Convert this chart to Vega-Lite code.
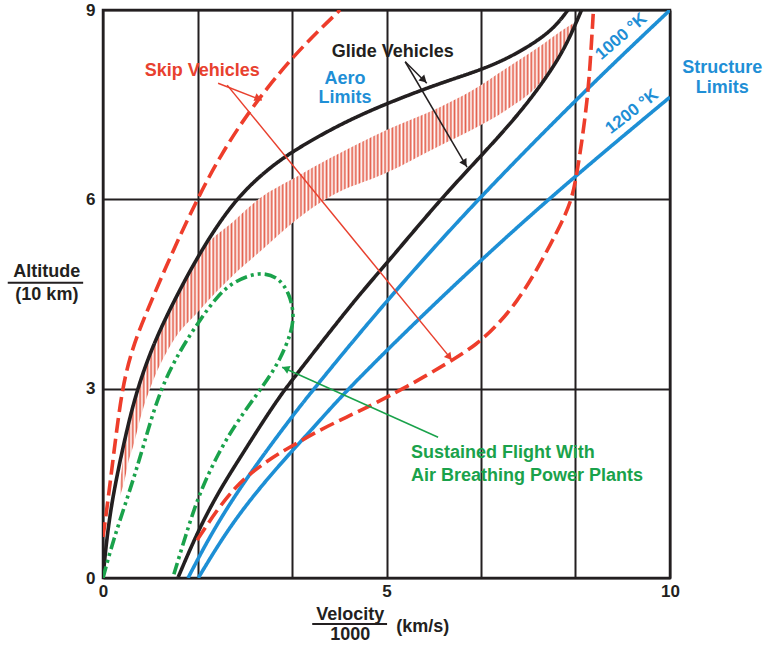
{
  "$schema": "https://vega.github.io/schema/vega-lite/v6.json",
  "width": 567,
  "height": 568,
  "autosize": {"type": "none"},
  "padding": {"left": 103, "top": 10, "right": 95, "bottom": 67},
  "background": "white",
  "config": {
    "view": {"stroke": "#231f20", "strokeWidth": 2.5},
    "font": "Liberation Sans",
    "axis": {
      "grid": true, "gridColor": "#231f20", "gridWidth": 2, "gridOpacity": 1,
      "ticks": false, "domain": false, "title": null,
      "labelFont": "Liberation Sans", "labelFontWeight": "bold", "labelFontSize": 17,
      "labelColor": "#231f20"
    }
  },
  "datasets": {
    "hatch": [
      {"x": 0.3, "y": 1.3, "y2": 1.5},
      {"x": 0.38, "y": 1.55, "y2": 2.05},
      {"x": 0.45, "y": 1.85, "y2": 2.4},
      {"x": 0.53, "y": 2.08, "y2": 2.72},
      {"x": 0.68, "y": 2.6, "y2": 3.2},
      {"x": 0.85, "y": 3.05, "y2": 3.6},
      {"x": 1.2, "y": 3.7, "y2": 4.25},
      {"x": 1.71, "y": 4.25, "y2": 5.15},
      {"x": 2.3, "y": 4.8, "y2": 5.65},
      {"x": 2.74, "y": 5.15, "y2": 6.0},
      {"x": 3.4, "y": 5.67, "y2": 6.35},
      {"x": 4.0, "y": 6.04, "y2": 6.65},
      {"x": 5.0, "y": 6.42, "y2": 7.1},
      {"x": 5.94, "y": 6.85, "y2": 7.46},
      {"x": 6.5, "y": 7.1, "y2": 7.72},
      {"x": 7.12, "y": 7.42, "y2": 8.08},
      {"x": 7.7, "y": 7.84, "y2": 8.42},
      {"x": 8.1, "y": 8.37, "y2": 8.68},
      {"x": 8.36, "y": 8.78, "y2": 8.82}
    ],
    "curves": [
      {"s": "glide_upper", "i": 1, "x": 0, "y": 0},
      {"s": "glide_upper", "i": 2, "x": 0.04, "y": 0.4},
      {"s": "glide_upper", "i": 3, "x": 0.12, "y": 1.0},
      {"s": "glide_upper", "i": 4, "x": 0.24, "y": 1.6},
      {"s": "glide_upper", "i": 5, "x": 0.42, "y": 2.35},
      {"s": "glide_upper", "i": 6, "x": 0.6, "y": 2.98},
      {"s": "glide_upper", "i": 7, "x": 0.85, "y": 3.62},
      {"s": "glide_upper", "i": 8, "x": 1.18, "y": 4.27},
      {"s": "glide_upper", "i": 9, "x": 1.71, "y": 5.17},
      {"s": "glide_upper", "i": 10, "x": 2.3, "y": 5.97},
      {"s": "glide_upper", "i": 11, "x": 2.85, "y": 6.44},
      {"s": "glide_upper", "i": 12, "x": 3.35, "y": 6.77},
      {"s": "glide_upper", "i": 13, "x": 4.2, "y": 7.2},
      {"s": "glide_upper", "i": 14, "x": 5.0, "y": 7.52},
      {"s": "glide_upper", "i": 15, "x": 5.94, "y": 7.84},
      {"s": "glide_upper", "i": 16, "x": 6.67, "y": 8.05},
      {"s": "glide_upper", "i": 17, "x": 7.2, "y": 8.26},
      {"s": "glide_upper", "i": 18, "x": 7.7, "y": 8.53},
      {"s": "glide_upper", "i": 19, "x": 8.0, "y": 8.76},
      {"s": "glide_upper", "i": 20, "x": 8.2, "y": 9.0},
      {"s": "glide_lower", "i": 1, "x": 1.32, "y": 0},
      {"s": "glide_lower", "i": 2, "x": 1.68, "y": 0.76},
      {"s": "glide_lower", "i": 3, "x": 2.06, "y": 1.4},
      {"s": "glide_lower", "i": 4, "x": 2.47, "y": 1.98},
      {"s": "glide_lower", "i": 5, "x": 2.8, "y": 2.45},
      {"s": "glide_lower", "i": 6, "x": 3.12, "y": 2.88},
      {"s": "glide_lower", "i": 7, "x": 3.33, "y": 3.13},
      {"s": "glide_lower", "i": 8, "x": 4.44, "y": 4.41},
      {"s": "glide_lower", "i": 9, "x": 5.0, "y": 4.98},
      {"s": "glide_lower", "i": 10, "x": 5.94, "y": 5.99},
      {"s": "glide_lower", "i": 11, "x": 6.65, "y": 6.67},
      {"s": "glide_lower", "i": 12, "x": 7.41, "y": 7.42},
      {"s": "glide_lower", "i": 13, "x": 8.0, "y": 8.16},
      {"s": "glide_lower", "i": 14, "x": 8.25, "y": 8.6},
      {"s": "glide_lower", "i": 15, "x": 8.44, "y": 9.0},
      {"s": "aero_1000", "i": 1, "x": 1.5, "y": 0},
      {"s": "aero_1000", "i": 2, "x": 1.94, "y": 0.76},
      {"s": "aero_1000", "i": 3, "x": 2.54, "y": 1.6},
      {"s": "aero_1000", "i": 4, "x": 3.3, "y": 2.52},
      {"s": "aero_1000", "i": 5, "x": 3.72, "y": 3.0},
      {"s": "aero_1000", "i": 6, "x": 5.01, "y": 4.41},
      {"s": "aero_1000", "i": 7, "x": 6.6, "y": 6.0},
      {"s": "aero_1000", "i": 8, "x": 8.54, "y": 7.76},
      {"s": "aero_1000", "i": 9, "x": 10, "y": 9.0},
      {"s": "aero_1200", "i": 1, "x": 1.68, "y": 0},
      {"s": "aero_1200", "i": 2, "x": 2.19, "y": 0.76},
      {"s": "aero_1200", "i": 3, "x": 2.77, "y": 1.44},
      {"s": "aero_1200", "i": 4, "x": 3.35, "y": 2.03},
      {"s": "aero_1200", "i": 5, "x": 3.83, "y": 2.5},
      {"s": "aero_1200", "i": 6, "x": 4.32, "y": 3.0},
      {"s": "aero_1200", "i": 7, "x": 5.91, "y": 4.41},
      {"s": "aero_1200", "i": 8, "x": 7.83, "y": 6.0},
      {"s": "aero_1200", "i": 9, "x": 10, "y": 7.62},
      {"s": "skip_left", "i": 1, "x": 0, "y": 0.65},
      {"s": "skip_left", "i": 2, "x": 0.07, "y": 1.1},
      {"s": "skip_left", "i": 3, "x": 0.2, "y": 2.05},
      {"s": "skip_left", "i": 4, "x": 0.34, "y": 3.03},
      {"s": "skip_left", "i": 5, "x": 0.52, "y": 3.65},
      {"s": "skip_left", "i": 6, "x": 0.76, "y": 4.2},
      {"s": "skip_left", "i": 7, "x": 1.24, "y": 5.2},
      {"s": "skip_left", "i": 8, "x": 1.66, "y": 6.0},
      {"s": "skip_left", "i": 9, "x": 2.06, "y": 6.68},
      {"s": "skip_left", "i": 10, "x": 2.59, "y": 7.42},
      {"s": "skip_left", "i": 11, "x": 3.35, "y": 8.28},
      {"s": "skip_left", "i": 12, "x": 4.18, "y": 9.0},
      {"s": "skip_right", "i": 1, "x": 1.66, "y": 0.6},
      {"s": "skip_right", "i": 2, "x": 2.01, "y": 1.08},
      {"s": "skip_right", "i": 3, "x": 2.3, "y": 1.4},
      {"s": "skip_right", "i": 4, "x": 2.54, "y": 1.62},
      {"s": "skip_right", "i": 5, "x": 3.0, "y": 1.92},
      {"s": "skip_right", "i": 6, "x": 3.35, "y": 2.1},
      {"s": "skip_right", "i": 7, "x": 3.83, "y": 2.35},
      {"s": "skip_right", "i": 8, "x": 4.3, "y": 2.55},
      {"s": "skip_right", "i": 9, "x": 4.76, "y": 2.75},
      {"s": "skip_right", "i": 10, "x": 5.36, "y": 3.03},
      {"s": "skip_right", "i": 11, "x": 6.07, "y": 3.4},
      {"s": "skip_right", "i": 12, "x": 6.6, "y": 3.7},
      {"s": "skip_right", "i": 13, "x": 7.0, "y": 4.05},
      {"s": "skip_right", "i": 14, "x": 7.3, "y": 4.38},
      {"s": "skip_right", "i": 15, "x": 7.6, "y": 4.8},
      {"s": "skip_right", "i": 16, "x": 7.9, "y": 5.3},
      {"s": "skip_right", "i": 17, "x": 8.1, "y": 5.65},
      {"s": "skip_right", "i": 18, "x": 8.27, "y": 6.0},
      {"s": "skip_right", "i": 19, "x": 8.36, "y": 6.42},
      {"s": "skip_right", "i": 20, "x": 8.45, "y": 6.94},
      {"s": "skip_right", "i": 21, "x": 8.54, "y": 7.57},
      {"s": "skip_right", "i": 22, "x": 8.59, "y": 8.1},
      {"s": "skip_right", "i": 23, "x": 8.65, "y": 9.0},
      {"s": "sustained", "i": 1, "x": 0, "y": 0},
      {"s": "sustained", "i": 2, "x": 0.18, "y": 0.6},
      {"s": "sustained", "i": 3, "x": 0.48, "y": 1.4},
      {"s": "sustained", "i": 4, "x": 0.71, "y": 2.08},
      {"s": "sustained", "i": 5, "x": 1.0, "y": 2.98},
      {"s": "sustained", "i": 6, "x": 1.36, "y": 3.61},
      {"s": "sustained", "i": 7, "x": 1.71, "y": 4.09},
      {"s": "sustained", "i": 8, "x": 2.0, "y": 4.45},
      {"s": "sustained", "i": 9, "x": 2.3, "y": 4.7},
      {"s": "sustained", "i": 10, "x": 2.77, "y": 4.86},
      {"s": "sustained", "i": 11, "x": 3.1, "y": 4.76},
      {"s": "sustained", "i": 12, "x": 3.28, "y": 4.52},
      {"s": "sustained", "i": 13, "x": 3.37, "y": 4.2},
      {"s": "sustained", "i": 14, "x": 3.33, "y": 3.9},
      {"s": "sustained", "i": 15, "x": 3.12, "y": 3.45},
      {"s": "sustained", "i": 16, "x": 2.87, "y": 3.1},
      {"s": "sustained", "i": 17, "x": 2.38, "y": 2.5},
      {"s": "sustained", "i": 18, "x": 2.03, "y": 1.98},
      {"s": "sustained", "i": 19, "x": 1.68, "y": 1.3},
      {"s": "sustained", "i": 20, "x": 1.45, "y": 0.65},
      {"s": "sustained", "i": 21, "x": 1.23, "y": 0}
    ],
    "arrows": [
      {"g": "red", "x": 2.03, "y": 7.84, "x2": 2.8, "y2": 7.57},
      {"g": "red", "x": 2.19, "y": 7.81, "x2": 6.15, "y2": 3.46},
      {"g": "black", "x": 5.33, "y": 8.18, "x2": 5.71, "y2": 7.84},
      {"g": "black", "x": 5.33, "y": 8.18, "x2": 6.42, "y2": 6.51},
      {"g": "green", "x": 5.91, "y": 2.23, "x2": 3.16, "y2": 3.34}
    ],
    "heads": [
      {"g": "red", "x": 2.74, "y": 7.6, "a": 111},
      {"g": "red", "x": 6.11, "y": 3.5, "a": 141},
      {"g": "black", "x": 5.66, "y": 7.89, "a": 134},
      {"g": "black", "x": 6.38, "y": 6.57, "a": 149},
      {"g": "green", "x": 3.22, "y": 3.32, "a": 294}
    ],
    "labels": [
      {"t": "Skip Vehicles", "g": "red", "x": 1.75, "y": 8.03},
      {"t": "Glide Vehicles", "g": "black", "x": 5.11, "y": 8.34},
      {"t": "Aero", "g": "blue", "x": 4.27, "y": 7.91},
      {"t": "Limits", "g": "blue", "x": 4.27, "y": 7.6},
      {"t": "Structure", "g": "blue", "x": 10.92, "y": 8.08},
      {"t": "Limits", "g": "blue", "x": 10.92, "y": 7.77},
      {"t": "Altitude", "g": "black", "x": -0.99, "y": 4.85},
      {"t": "(10 km)", "g": "black", "x": -0.99, "y": 4.48},
      {"t": "Velocity", "g": "black", "x": 4.36, "y": -0.59},
      {"t": "1000", "g": "black", "x": 4.36, "y": -0.9},
      {"t": "(km/s)", "g": "black", "x": 5.64, "y": -0.78}
    ],
    "greenText": [
      {"t": "Sustained Flight With", "x": 5.43, "y": 1.98},
      {"t": "Air Breathing Power Plants", "x": 5.43, "y": 1.62}
    ],
    "tempText": [
      {"t": "1000 °K", "x": 9.14, "y": 8.58, "a": 319},
      {"t": "1200 °K", "x": 9.33, "y": 7.39, "a": 322}
    ],
    "fractionBars": [
      {"x": -1.68, "x2": -0.35, "y": 4.68},
      {"x": 3.69, "x2": 5.01, "y": -0.73}
    ]
  },
  "encoding": {
    "x": {
      "field": "x", "type": "quantitative",
      "scale": {"domain": [0, 10], "nice": false, "zero": false},
      "axis": {
        "values": [0, 1.6667, 3.3333, 5, 6.6667, 8.3333, 10],
        "labelExpr": "(datum.value == 0 || datum.value == 5 || datum.value == 10) ? datum.label : ''",
        "labelOverlap": false, "labelFlush": false, "labelPadding": 5
      }
    },
    "y": {
      "field": "y", "type": "quantitative",
      "scale": {"domain": [0, 9], "nice": false, "zero": false},
      "axis": {"values": [0, 3, 6, 9], "labelOverlap": false, "labelFlush": false, "labelPadding": 8}
    }
  },
  "resolve": {"scale": {"color": "independent", "strokeDash": "independent", "angle": "independent"}},
  "layer": [
    {
      "data": {"name": "hatch"},
      "mark": {
        "type": "area", "opacity": 1, "interpolate": "monotone",
        "color": {
          "gradient": "linear", "x1": 0, "y1": 0, "x2": 1, "y2": 0,
          "stops": [
            {"offset":0,"color":"#fff"},{"offset":0.004,"color":"#e4604d"},{"offset":0.008,"color":"#fff"},{"offset":0.012,"color":"#e4604d"},{"offset":0.016,"color":"#fff"},{"offset":0.02,"color":"#e4604d"},{"offset":0.024,"color":"#fff"},{"offset":0.028,"color":"#e4604d"},{"offset":0.032,"color":"#fff"},{"offset":0.036,"color":"#e4604d"},{"offset":0.04,"color":"#fff"},{"offset":0.044,"color":"#e4604d"},{"offset":0.048,"color":"#fff"},{"offset":0.052,"color":"#e4604d"},{"offset":0.056,"color":"#fff"},{"offset":0.06,"color":"#e4604d"},{"offset":0.064,"color":"#fff"},{"offset":0.068,"color":"#e4604d"},{"offset":0.072,"color":"#fff"},{"offset":0.076,"color":"#e4604d"},{"offset":0.08,"color":"#fff"},{"offset":0.084,"color":"#e4604d"},{"offset":0.088,"color":"#fff"},{"offset":0.092,"color":"#e4604d"},{"offset":0.096,"color":"#fff"},
            {"offset":0.1,"color":"#e4604d"},{"offset":0.104,"color":"#fff"},{"offset":0.108,"color":"#e4604d"},{"offset":0.112,"color":"#fff"},{"offset":0.116,"color":"#e4604d"},{"offset":0.12,"color":"#fff"},{"offset":0.124,"color":"#e4604d"},{"offset":0.128,"color":"#fff"},{"offset":0.132,"color":"#e4604d"},{"offset":0.136,"color":"#fff"},{"offset":0.14,"color":"#e4604d"},{"offset":0.144,"color":"#fff"},{"offset":0.148,"color":"#e4604d"},{"offset":0.152,"color":"#fff"},{"offset":0.156,"color":"#e4604d"},{"offset":0.16,"color":"#fff"},{"offset":0.164,"color":"#e4604d"},{"offset":0.168,"color":"#fff"},{"offset":0.172,"color":"#e4604d"},{"offset":0.176,"color":"#fff"},{"offset":0.18,"color":"#e4604d"},{"offset":0.184,"color":"#fff"},{"offset":0.188,"color":"#e4604d"},{"offset":0.192,"color":"#fff"},{"offset":0.196,"color":"#e4604d"},
            {"offset":0.2,"color":"#fff"},{"offset":0.204,"color":"#e4604d"},{"offset":0.208,"color":"#fff"},{"offset":0.212,"color":"#e4604d"},{"offset":0.216,"color":"#fff"},{"offset":0.22,"color":"#e4604d"},{"offset":0.224,"color":"#fff"},{"offset":0.228,"color":"#e4604d"},{"offset":0.232,"color":"#fff"},{"offset":0.236,"color":"#e4604d"},{"offset":0.24,"color":"#fff"},{"offset":0.244,"color":"#e4604d"},{"offset":0.248,"color":"#fff"},{"offset":0.252,"color":"#e4604d"},{"offset":0.256,"color":"#fff"},{"offset":0.26,"color":"#e4604d"},{"offset":0.264,"color":"#fff"},{"offset":0.268,"color":"#e4604d"},{"offset":0.272,"color":"#fff"},{"offset":0.276,"color":"#e4604d"},{"offset":0.28,"color":"#fff"},{"offset":0.284,"color":"#e4604d"},{"offset":0.288,"color":"#fff"},{"offset":0.292,"color":"#e4604d"},{"offset":0.296,"color":"#fff"},
            {"offset":0.3,"color":"#e4604d"},{"offset":0.304,"color":"#fff"},{"offset":0.308,"color":"#e4604d"},{"offset":0.312,"color":"#fff"},{"offset":0.316,"color":"#e4604d"},{"offset":0.32,"color":"#fff"},{"offset":0.324,"color":"#e4604d"},{"offset":0.328,"color":"#fff"},{"offset":0.332,"color":"#e4604d"},{"offset":0.336,"color":"#fff"},{"offset":0.34,"color":"#e4604d"},{"offset":0.344,"color":"#fff"},{"offset":0.348,"color":"#e4604d"},{"offset":0.352,"color":"#fff"},{"offset":0.356,"color":"#e4604d"},{"offset":0.36,"color":"#fff"},{"offset":0.364,"color":"#e4604d"},{"offset":0.368,"color":"#fff"},{"offset":0.372,"color":"#e4604d"},{"offset":0.376,"color":"#fff"},{"offset":0.38,"color":"#e4604d"},{"offset":0.384,"color":"#fff"},{"offset":0.388,"color":"#e4604d"},{"offset":0.392,"color":"#fff"},{"offset":0.396,"color":"#e4604d"},
            {"offset":0.4,"color":"#fff"},{"offset":0.404,"color":"#e4604d"},{"offset":0.408,"color":"#fff"},{"offset":0.412,"color":"#e4604d"},{"offset":0.416,"color":"#fff"},{"offset":0.42,"color":"#e4604d"},{"offset":0.424,"color":"#fff"},{"offset":0.428,"color":"#e4604d"},{"offset":0.432,"color":"#fff"},{"offset":0.436,"color":"#e4604d"},{"offset":0.44,"color":"#fff"},{"offset":0.444,"color":"#e4604d"},{"offset":0.448,"color":"#fff"},{"offset":0.452,"color":"#e4604d"},{"offset":0.456,"color":"#fff"},{"offset":0.46,"color":"#e4604d"},{"offset":0.464,"color":"#fff"},{"offset":0.468,"color":"#e4604d"},{"offset":0.472,"color":"#fff"},{"offset":0.476,"color":"#e4604d"},{"offset":0.48,"color":"#fff"},{"offset":0.484,"color":"#e4604d"},{"offset":0.488,"color":"#fff"},{"offset":0.492,"color":"#e4604d"},{"offset":0.496,"color":"#fff"},
            {"offset":0.5,"color":"#e4604d"},{"offset":0.504,"color":"#fff"},{"offset":0.508,"color":"#e4604d"},{"offset":0.512,"color":"#fff"},{"offset":0.516,"color":"#e4604d"},{"offset":0.52,"color":"#fff"},{"offset":0.524,"color":"#e4604d"},{"offset":0.528,"color":"#fff"},{"offset":0.532,"color":"#e4604d"},{"offset":0.536,"color":"#fff"},{"offset":0.54,"color":"#e4604d"},{"offset":0.544,"color":"#fff"},{"offset":0.548,"color":"#e4604d"},{"offset":0.552,"color":"#fff"},{"offset":0.556,"color":"#e4604d"},{"offset":0.56,"color":"#fff"},{"offset":0.564,"color":"#e4604d"},{"offset":0.568,"color":"#fff"},{"offset":0.572,"color":"#e4604d"},{"offset":0.576,"color":"#fff"},{"offset":0.58,"color":"#e4604d"},{"offset":0.584,"color":"#fff"},{"offset":0.588,"color":"#e4604d"},{"offset":0.592,"color":"#fff"},{"offset":0.596,"color":"#e4604d"},
            {"offset":0.6,"color":"#fff"},{"offset":0.604,"color":"#e4604d"},{"offset":0.608,"color":"#fff"},{"offset":0.612,"color":"#e4604d"},{"offset":0.616,"color":"#fff"},{"offset":0.62,"color":"#e4604d"},{"offset":0.624,"color":"#fff"},{"offset":0.628,"color":"#e4604d"},{"offset":0.632,"color":"#fff"},{"offset":0.636,"color":"#e4604d"},{"offset":0.64,"color":"#fff"},{"offset":0.644,"color":"#e4604d"},{"offset":0.648,"color":"#fff"},{"offset":0.652,"color":"#e4604d"},{"offset":0.656,"color":"#fff"},{"offset":0.66,"color":"#e4604d"},{"offset":0.664,"color":"#fff"},{"offset":0.668,"color":"#e4604d"},{"offset":0.672,"color":"#fff"},{"offset":0.676,"color":"#e4604d"},{"offset":0.68,"color":"#fff"},{"offset":0.684,"color":"#e4604d"},{"offset":0.688,"color":"#fff"},{"offset":0.692,"color":"#e4604d"},{"offset":0.696,"color":"#fff"},
            {"offset":0.7,"color":"#e4604d"},{"offset":0.704,"color":"#fff"},{"offset":0.708,"color":"#e4604d"},{"offset":0.712,"color":"#fff"},{"offset":0.716,"color":"#e4604d"},{"offset":0.72,"color":"#fff"},{"offset":0.724,"color":"#e4604d"},{"offset":0.728,"color":"#fff"},{"offset":0.732,"color":"#e4604d"},{"offset":0.736,"color":"#fff"},{"offset":0.74,"color":"#e4604d"},{"offset":0.744,"color":"#fff"},{"offset":0.748,"color":"#e4604d"},{"offset":0.752,"color":"#fff"},{"offset":0.756,"color":"#e4604d"},{"offset":0.76,"color":"#fff"},{"offset":0.764,"color":"#e4604d"},{"offset":0.768,"color":"#fff"},{"offset":0.772,"color":"#e4604d"},{"offset":0.776,"color":"#fff"},{"offset":0.78,"color":"#e4604d"},{"offset":0.784,"color":"#fff"},{"offset":0.788,"color":"#e4604d"},{"offset":0.792,"color":"#fff"},{"offset":0.796,"color":"#e4604d"},
            {"offset":0.8,"color":"#fff"},{"offset":0.804,"color":"#e4604d"},{"offset":0.808,"color":"#fff"},{"offset":0.812,"color":"#e4604d"},{"offset":0.816,"color":"#fff"},{"offset":0.82,"color":"#e4604d"},{"offset":0.824,"color":"#fff"},{"offset":0.828,"color":"#e4604d"},{"offset":0.832,"color":"#fff"},{"offset":0.836,"color":"#e4604d"},{"offset":0.84,"color":"#fff"},{"offset":0.844,"color":"#e4604d"},{"offset":0.848,"color":"#fff"},{"offset":0.852,"color":"#e4604d"},{"offset":0.856,"color":"#fff"},{"offset":0.86,"color":"#e4604d"},{"offset":0.864,"color":"#fff"},{"offset":0.868,"color":"#e4604d"},{"offset":0.872,"color":"#fff"},{"offset":0.876,"color":"#e4604d"},{"offset":0.88,"color":"#fff"},{"offset":0.884,"color":"#e4604d"},{"offset":0.888,"color":"#fff"},{"offset":0.892,"color":"#e4604d"},{"offset":0.896,"color":"#fff"},
            {"offset":0.9,"color":"#e4604d"},{"offset":0.904,"color":"#fff"},{"offset":0.908,"color":"#e4604d"},{"offset":0.912,"color":"#fff"},{"offset":0.916,"color":"#e4604d"},{"offset":0.92,"color":"#fff"},{"offset":0.924,"color":"#e4604d"},{"offset":0.928,"color":"#fff"},{"offset":0.932,"color":"#e4604d"},{"offset":0.936,"color":"#fff"},{"offset":0.94,"color":"#e4604d"},{"offset":0.944,"color":"#fff"},{"offset":0.948,"color":"#e4604d"},{"offset":0.952,"color":"#fff"},{"offset":0.956,"color":"#e4604d"},{"offset":0.96,"color":"#fff"},{"offset":0.964,"color":"#e4604d"},{"offset":0.968,"color":"#fff"},{"offset":0.972,"color":"#e4604d"},{"offset":0.976,"color":"#fff"},{"offset":0.98,"color":"#e4604d"},{"offset":0.984,"color":"#fff"},{"offset":0.988,"color":"#e4604d"},{"offset":0.992,"color":"#fff"},{"offset":0.996,"color":"#e4604d"},
            {"offset":1,"color":"#fff"}
          ]
        }
      },
      "encoding": {"y2": {"field": "y2"}}
    },
    {
      "data": {"name": "curves"},
      "mark": {"type": "line", "strokeWidth": 3.6, "interpolate": "basis", "clip": true},
      "encoding": {
        "order": {"field": "i", "type": "quantitative"},
        "detail": {"field": "s", "type": "nominal"},
        "color": {
          "field": "s", "type": "nominal", "legend": null,
          "scale": {
            "domain": ["glide_upper", "glide_lower", "aero_1000", "aero_1200", "skip_left", "skip_right", "sustained"],
            "range": ["#231f20", "#231f20", "#1d8fd5", "#1d8fd5", "#ee3d2b", "#ee3d2b", "#1aa24b"]
          }
        },
        "strokeDash": {
          "field": "s", "type": "nominal", "legend": null,
          "scale": {
            "domain": ["glide_upper", "glide_lower", "aero_1000", "aero_1200", "skip_left", "skip_right", "sustained"],
            "range": [[1, 0], [1, 0], [1, 0], [1, 0], [15, 6], [15, 6], [12, 4, 3, 4, 3, 4]]
          }
        }
      }
    },
    {
      "data": {"name": "arrows"},
      "mark": {"type": "rule", "strokeWidth": 1.5},
      "encoding": {
        "x2": {"field": "x2"},
        "y2": {"field": "y2"},
        "color": {
          "field": "g", "type": "nominal", "legend": null,
          "scale": {"domain": ["red", "black", "green"], "range": ["#e8402e", "#231f20", "#1aa24b"]}
        }
      }
    },
    {
      "data": {"name": "heads"},
      "mark": {"type": "point", "shape": "triangle-up", "filled": true, "size": 70, "opacity": 1},
      "encoding": {
        "angle": {"field": "a", "type": "quantitative", "scale": {"domain": [0, 360], "range": [0, 360]}},
        "color": {
          "field": "g", "type": "nominal", "legend": null,
          "scale": {"domain": ["red", "black", "green"], "range": ["#e8402e", "#231f20", "#1aa24b"]}
        }
      }
    },
    {
      "data": {"name": "labels"},
      "mark": {"type": "text", "font": "Liberation Sans", "fontWeight": "bold", "fontSize": 18, "align": "center", "baseline": "middle"},
      "encoding": {
        "text": {"field": "t"},
        "color": {
          "field": "g", "type": "nominal", "legend": null,
          "scale": {"domain": ["red", "black", "blue"], "range": ["#e8412f", "#231f20", "#1f8fd6"]}
        }
      }
    },
    {
      "data": {"name": "greenText"},
      "mark": {"type": "text", "font": "Liberation Sans", "fontWeight": "bold", "fontSize": 18, "align": "left", "baseline": "middle", "color": "#1aa24b"},
      "encoding": {"text": {"field": "t"}}
    },
    {
      "data": {"name": "tempText"},
      "mark": {"type": "text", "font": "Liberation Sans", "fontWeight": "bold", "fontSize": 17, "align": "center", "baseline": "middle", "color": "#1f8fd6"},
      "encoding": {
        "text": {"field": "t"},
        "angle": {"field": "a", "type": "quantitative", "scale": {"domain": [0, 360], "range": [0, 360]}}
      }
    },
    {
      "data": {"name": "fractionBars"},
      "mark": {"type": "rule", "strokeWidth": 2, "color": "#231f20"},
      "encoding": {"x2": {"field": "x2"}}
    }
  ]
}
